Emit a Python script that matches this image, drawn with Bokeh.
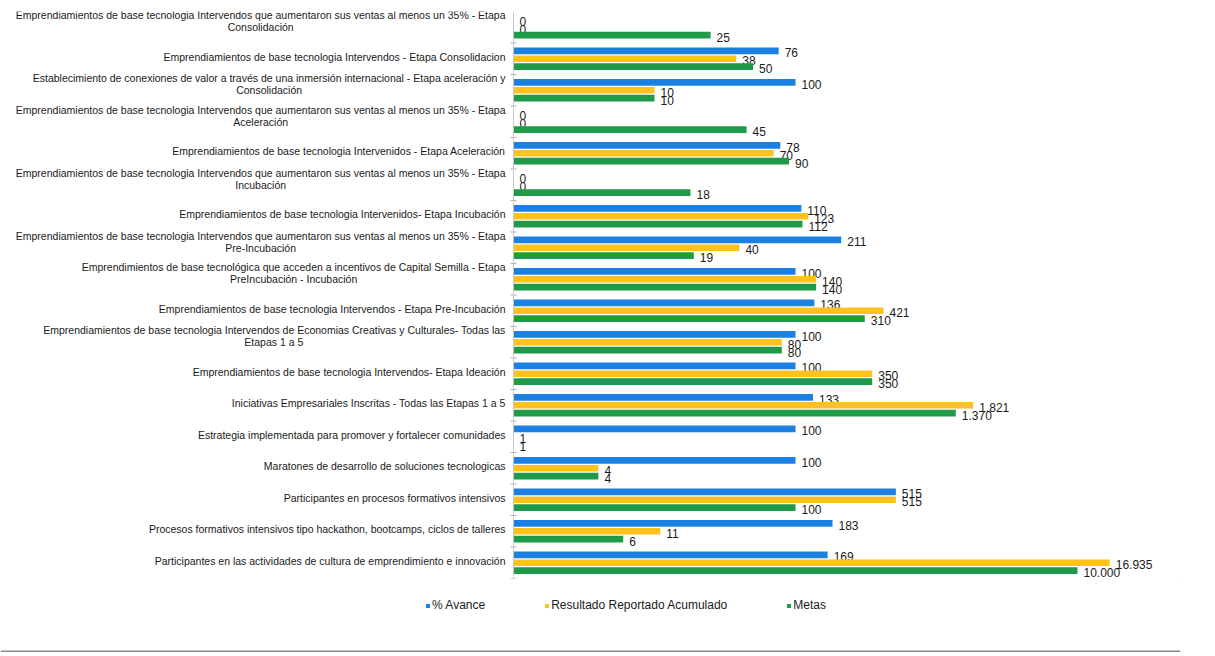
import math
from bokeh.plotting import figure
from bokeh.layouts import column
from bokeh.models import ColumnDataSource, FactorRange, Range1d, Legend, LegendItem, Span
from bokeh.transform import dodge
from bokeh.core.properties import value
from bokeh.embed import file_html
from bokeh.resources import INLINE

# ---------------- data (top to bottom as in the chart) ----------------
categories = [
    "Emprendiamientos de base tecnologia Intervendos que aumentaron sus ventas al menos un 35% - Etapa\nConsolidación",
    "Emprendiamientos de base tecnologia Intervendos - Etapa Consolidacion",
    "Establecimiento de conexiones de valor a través de una inmersión internacional - Etapa aceleración y\nConsolidación",
    "Emprendiamientos de base tecnologia Intervendos que aumentaron sus ventas al menos un 35% - Etapa\nAceleración",
    "Emprendiamientos de base tecnologia Intervenidos - Etapa Aceleración",
    "Emprendiamientos de base tecnologia Intervendos que aumentaron sus ventas al menos un 35% - Etapa\nIncubación",
    "Emprendiamientos de base tecnologia Intervenidos- Etapa Incubación",
    "Emprendiamientos de base tecnologia Intervendos que aumentaron sus ventas al menos un 35% - Etapa\nPre-Incubación",
    "Emprendimientos de base tecnológica que acceden a incentivos de Capital Semilla - Etapa\nPreIncubación - Incubación",
    "Emprendiamientos de base tecnologia Intervendos - Etapa Pre-Incubación",
    "Emprendiamientos de base tecnologia Intervendos de Economias Creativas y Culturales- Todas las\nEtapas 1 a 5",
    "Emprendiamientos de base tecnologia Intervendos- Etapa Ideación",
    "Iniciativas Empresariales Inscritas - Todas las Etapas 1 a 5",
    "Estrategia implementada para promover y fortalecer comunidades",
    "Maratones de desarrollo de soluciones tecnologicas",
    "Participantes en procesos formativos intensivos",
    "Procesos formativos intensivos tipo hackathon, bootcamps, ciclos de talleres",
    "Participantes en las actividades de cultura de emprendimiento e innovación",
]
avance = [0, 76, 100, 0, 78, 0, 110, 211, 100, 136, 100, 100, 133, 100, 100, 515, 183, 169]
resultado = [0, 38, 10, 0, 70, 0, 123, 40, 140, 421, 80, 350, 1821, 1, 4, 515, 11, 16935]
metas = [25, 50, 10, 45, 90, 18, 112, 19, 140, 310, 80, 350, 1370, 1, 4, 100, 6, 10000]

series_names = ["% Avance", "Resultado Reportado Acumulado", "Metas"]
series_values = [avance, resultado, metas]
colors = ["#1b80e2", "#fdc21e", "#1e9a48"]

# ---------------- helpers ----------------
ARIAL = {' ': 278, '%': 889, ',': 278, '-': 333, '.': 278,
         'A': 667, 'B': 667, 'C': 722, 'D': 722, 'E': 667, 'F': 611, 'G': 778, 'H': 722, 'I': 278,
         'J': 500, 'K': 667, 'L': 556, 'M': 833, 'N': 722, 'O': 778, 'P': 667, 'Q': 778, 'R': 722,
         'S': 667, 'T': 611, 'U': 722, 'V': 667, 'W': 944, 'X': 667, 'Y': 667, 'Z': 611,
         'a': 556, 'b': 556, 'c': 500, 'd': 556, 'e': 556, 'f': 278, 'g': 556, 'h': 556, 'i': 222,
         'j': 222, 'k': 500, 'l': 222, 'm': 833, 'n': 556, 'o': 556, 'p': 556, 'q': 556, 'r': 333,
         's': 500, 't': 278, 'u': 556, 'v': 500, 'w': 722, 'x': 500, 'y': 500, 'z': 500,
         'á': 556, 'é': 556, 'í': 278, 'ó': 556, 'ú': 556}


def text_width(s, size):
    return sum(ARIAL.get(ch, 556) for ch in s) * size / 1000.0


def fmt(v):
    return f"{v:,}".replace(",", ".")


LABEL_SIZE = 10.5
W, H = 1215, 656
FRAME_TOP, FRAME_H = 11, 567
MAIN_H = 580
RIGHT_BORDER = 35
BASE_PX, PX_PER_DEC = 513, 141.0
frame_w = W - RIGHT_BORDER
lo = -BASE_PX / PX_PER_DEC
hi = lo + frame_w / PX_PER_DEC

factors = list(reversed(categories))

p = figure(width=W, height=MAIN_H, x_axis_type="log",
           x_range=Range1d(10 ** lo, 10 ** hi),
           y_range=FactorRange(factors=factors, range_padding=0),
           x_axis_location=None, y_axis_location=None,
           min_border_left=0, min_border_right=RIGHT_BORDER,
           min_border_top=FRAME_TOP, min_border_bottom=MAIN_H - FRAME_TOP - FRAME_H,
           outline_line_color=None, toolbar_location=None,
           output_backend="svg", background_fill_color="white")
p.grid.visible = False

# axis line with small ticks
p.add_layout(Span(location=1, dimension="height", line_color="#c8c8c8", line_width=1))
p.scatter(x=[1] * (len(categories)), y=[(c, -0.5) for c in categories], marker="dash",
          size=6, line_color="#b0b0b0")

offsets = [0.25, 0.0, -0.25]
for name, vals, col, off in zip(series_names, series_values, colors, offsets):
    src = ColumnDataSource(dict(
        cat=categories,
        v=vals,
        right=[max(v, 1) for v in vals],
        lbl=[fmt(v) for v in vals],
    ))
    p.hbar(y=dodge("cat", off, range=p.y_range), left=1, right="right", height=0.21,
           fill_color=col, line_color=None, source=src)
    p.text(x="right", y=dodge("cat", off, range=p.y_range), text="lbl", source=src,
           x_offset=6, y_offset=2, text_align="left", text_baseline="middle",
           text_font=value("Liberation Sans"), text_font_size="12px", text_color="#1a1a1a")

# category labels (drawn as text so that two-line labels are centred like the original)
l1_cat, l1_txt, l1_yo = [], [], []
l2_cat, l2_txt, l2_xo = [], [], []
for c in categories:
    lines = c.split("\n")
    if len(lines) == 1:
        l1_cat.append(c); l1_txt.append(lines[0]); l1_yo.append(-2)
    else:
        l1_cat.append(c); l1_txt.append(lines[0]); l1_yo.append(-12)
        l2_cat.append(c); l2_txt.append(lines[1])
        l2_xo.append(-8 - text_width(lines[0], LABEL_SIZE) / 2)

p.text(x=1, y="cat", text="t", y_offset="yo",
       source=ColumnDataSource(dict(cat=l1_cat, t=l1_txt, yo=l1_yo)),
       x_offset=-8, text_align="right", text_baseline="middle",
       text_font=value("Liberation Sans"), text_font_size=f"{LABEL_SIZE}px", text_color="#1a1a1a")
p.text(x=1, y="cat", text="t", x_offset="xo", y_offset=0,
       source=ColumnDataSource(dict(cat=l2_cat, t=l2_txt, xo=l2_xo)),
       text_align="center", text_baseline="middle",
       text_font=value("Liberation Sans"), text_font_size=f"{LABEL_SIZE}px", text_color="#1a1a1a")

# ---------------- legend strip below the chart ----------------
LEG_H = H - MAIN_H
q = figure(width=W, height=LEG_H, x_range=Range1d(0, 1), y_range=Range1d(0, 1),
           x_axis_location=None, y_axis_location=None,
           min_border_left=0, min_border_right=0, min_border_top=0, min_border_bottom=0,
           outline_line_color=None, toolbar_location=None, output_backend="svg")
q.grid.visible = False
# legend proxies: bars placed outside the visible range, so only their legend swatches show
leg_renderers = [q.hbar(y=[5], left=[5], right=[6], height=0.1, fill_color=c, line_color=None)
                 for c in colors]
legend = Legend(items=[LegendItem(label=n, renderers=[r]) for n, r in zip(series_names, leg_renderers)],
                orientation="horizontal", location=(425, 41),
                glyph_width=5, glyph_height=5, label_standoff=2, spacing=59,
                padding=0, margin=0, border_line_color=None, background_fill_alpha=0,
                label_text_font="Liberation Sans", label_text_font_size="12px",
                label_text_color="#1a1a1a", label_height=20)
q.add_layout(legend, "center")
q.add_layout(Span(location=0.07, dimension="width", line_color="#8a8a8a", line_width=1.5))

open("out.html", "w").write(file_html(column(p, q, spacing=0), INLINE))
